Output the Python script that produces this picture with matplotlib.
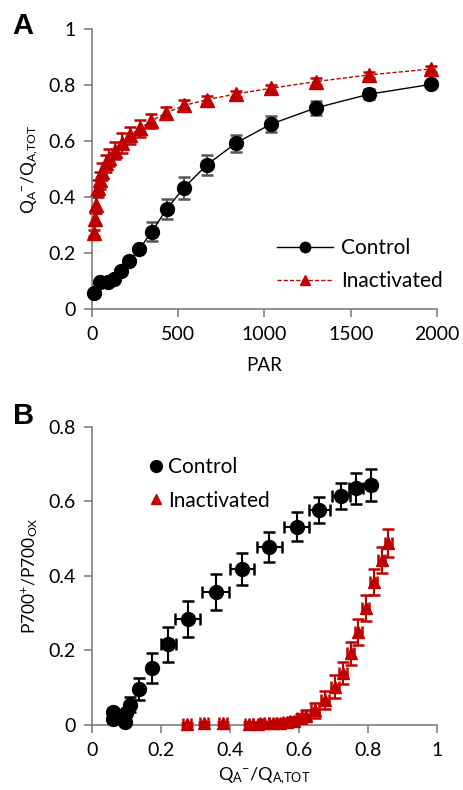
import numpy as np
import matplotlib
matplotlib.use('Agg')
import matplotlib.pyplot as plt
from matplotlib.ticker import FuncFormatter

plt.rcParams['font.family'] = ['Lato', 'DejaVu Sans']
plt.rcParams['mathtext.default'] = 'regular'

RED = '#C00000'
AXIS_GREY = '#7f7f7f'

# panel A: QA- fraction vs light intensity
par_control = [13, 46, 91, 129, 168, 216, 274, 346, 433, 533, 665, 833, 1036, 1297, 1606, 1963]
qa_control = [0.058, 0.097, 0.097, 0.107, 0.135, 0.17, 0.214, 0.275, 0.357, 0.433,
              0.514, 0.592, 0.66, 0.718, 0.767, 0.802]
qa_control_err = [0.005, 0.005, 0.005, 0.006, 0.008, 0.01, 0.012, 0.034, 0.035, 0.039,
                  0.037, 0.031, 0.029, 0.026, 0.018, 0.006]

par_inact = [13, 17, 23, 37, 46, 60, 79, 99, 133, 172, 220, 278, 340, 429, 533, 665,
             833, 1036, 1297, 1606, 1963]
qa_inact = [0.272, 0.322, 0.373, 0.431, 0.46, 0.49, 0.52, 0.54, 0.565, 0.593, 0.62,
            0.645, 0.67, 0.70, 0.727, 0.747, 0.768, 0.788, 0.812, 0.836, 0.857]
qa_inact_err = [0.01, 0.02, 0.03, 0.03, 0.03, 0.03, 0.03, 0.03, 0.03, 0.035, 0.03,
                0.03, 0.025, 0.02, 0.018, 0.015, 0.012, 0.012, 0.012, 0.012, 0.012]

# panel B: P700+ vs QA- fraction
b_ctrl_x = [0.06, 0.062, 0.096, 0.099, 0.11, 0.135, 0.173, 0.221, 0.277, 0.358,
            0.435, 0.514, 0.593, 0.659, 0.722, 0.765, 0.809]
b_ctrl_y = [0.036, 0.015, 0.009, 0.031, 0.054, 0.097, 0.154, 0.217, 0.284, 0.357,
            0.419, 0.478, 0.532, 0.577, 0.615, 0.635, 0.644]
b_ctrl_xerr = [0.004, 0.004, 0.005, 0.005, 0.006, 0.01, 0.01, 0.022, 0.035, 0.04,
               0.035, 0.037, 0.036, 0.03, 0.025, 0.02, 0.01]
b_ctrl_yerr = [0.005, 0.005, 0.005, 0.006, 0.02, 0.03, 0.04, 0.047, 0.048, 0.047,
               0.043, 0.041, 0.039, 0.036, 0.034, 0.042, 0.042]

b_inact_x = [0.275, 0.325, 0.38, 0.455, 0.48, 0.50, 0.525, 0.545, 0.565, 0.585, 0.605,
             0.62, 0.646, 0.675, 0.704, 0.728, 0.75, 0.772, 0.793, 0.817, 0.84, 0.859]
b_inact_y = [0.002, 0.004, 0.004, 0.003, 0.003, 0.004, 0.005, 0.006, 0.008, 0.012,
             0.018, 0.025, 0.04, 0.067, 0.103, 0.139, 0.192, 0.25, 0.313, 0.385,
             0.443, 0.488]
b_inact_xerr = [0.012, 0.012, 0.012, 0.012, 0.012, 0.012, 0.012, 0.012, 0.012, 0.012,
                0.012, 0.012, 0.012, 0.012, 0.012, 0.012, 0.01, 0.01, 0.01, 0.01,
                0.01, 0.01]
b_inact_yerr = [0.004, 0.004, 0.004, 0.004, 0.004, 0.004, 0.005, 0.006, 0.008, 0.01,
                0.012, 0.015, 0.02, 0.025, 0.03, 0.03, 0.032, 0.035, 0.035, 0.035,
                0.035, 0.038]

QA_LABEL = r'Q$_{A}$$^{-}$/Q$_{A{,}TOT}$'


def style_axes(ax):
    for side in ['top', 'right']:
        ax.spines[side].set_visible(False)
    for side in ['left', 'bottom']:
        ax.spines[side].set_color(AXIS_GREY)
        ax.spines[side].set_linewidth(1.2)
    ax.tick_params(direction='out', length=6, width=1.2, color=AXIS_GREY,
                   labelsize=14)
    ax.tick_params(axis='y', pad=6)
    ax.tick_params(axis='x', pad=6)
    ax.yaxis.set_major_formatter(FuncFormatter(lambda v, p: '%g' % round(v, 2)))
    ax.xaxis.set_major_formatter(FuncFormatter(lambda v, p: '%g' % round(v, 2)))


fig = plt.figure(figsize=(4.63, 7.90), dpi=100)
ax1 = fig.add_axes([0.1987, 0.6089, 0.7451, 0.3544])
ax2 = fig.add_axes([0.1987, 0.0823, 0.7451, 0.3772])

# panel A
ax1.errorbar(par_control, qa_control, yerr=qa_control_err, fmt='none',
             ecolor='#555555', elinewidth=1.5, capsize=4, capthick=1.8, clip_on=False)
ax1.plot(par_control, qa_control, '-', color='black', lw=1.0, marker='o',
         ms=10, mfc='black', mec='black', label='Control', clip_on=False, zorder=3)
ax1.errorbar(par_inact, qa_inact, yerr=qa_inact_err, fmt='none',
             ecolor=RED, elinewidth=1.5, capsize=4, capthick=1.8, clip_on=False)
ax1.plot(par_inact, qa_inact, '--', color=RED, lw=1.0, dashes=(3, 1.5), marker='^',
         ms=10, mfc=RED, mec=RED, label='Inactivated', clip_on=False, zorder=3)
ax1.set_xlim(0, 2000)
ax1.set_ylim(0, 1)
ax1.set_xticks([0, 500, 1000, 1500, 2000])
ax1.set_yticks([0, 0.2, 0.4, 0.6, 0.8, 1])
style_axes(ax1)
ax1.set_xlabel('PAR', fontsize=13.5, labelpad=10)
ax1.set_ylabel(QA_LABEL, fontsize=12.5, labelpad=6)
ax1.legend(loc='center left', bbox_to_anchor=(0.536, 0.158), frameon=False,
           fontsize=15, handlelength=2.7, handletextpad=0.37, borderpad=0,
           borderaxespad=0, labelspacing=0.62, markerscale=0.75)
fig.text(0.027, 0.967, 'A', fontsize=21, fontweight='bold',
         family='Liberation Sans', va='center', ha='left')

# panel B
ax2.errorbar(b_ctrl_x, b_ctrl_y, xerr=b_ctrl_xerr, yerr=b_ctrl_yerr, fmt='o',
             color='black', ms=10, ecolor='black', elinewidth=1.5, capsize=4,
             capthick=1.8, label='Control', clip_on=False, zorder=3)
ax2.errorbar(b_inact_x, b_inact_y, xerr=b_inact_xerr, yerr=b_inact_yerr, fmt='^',
             color=RED, ms=9, ecolor=RED, elinewidth=1.5, capsize=4,
             capthick=1.8, label='Inactivated', clip_on=False, zorder=3)
ax2.set_xlim(0, 1)
ax2.set_ylim(0, 0.8)
ax2.set_xticks([0, 0.2, 0.4, 0.6, 0.8, 1])
ax2.set_yticks([0, 0.2, 0.4, 0.6, 0.8])
style_axes(ax2)
ax2.set_xlabel(QA_LABEL, fontsize=13, labelpad=5)
ax2.set_ylabel(r'P700$^{+}$/P700$_{OX}$', fontsize=12.5, labelpad=6)
h, l = ax2.get_legend_handles_labels()
h = [hh[0] for hh in h]
ax2.legend(h, l, loc='center left', bbox_to_anchor=(0.161, 0.809), frameon=False,
           fontsize=15, handlelength=0.8, handletextpad=0.2, borderpad=0,
           borderaxespad=0, labelspacing=0.65, markerscale=0.85)
fig.text(0.027, 0.4734, 'B', fontsize=21, fontweight='bold',
         family='Liberation Sans', va='center', ha='left')

fig.savefig('out.png', dpi=100)
